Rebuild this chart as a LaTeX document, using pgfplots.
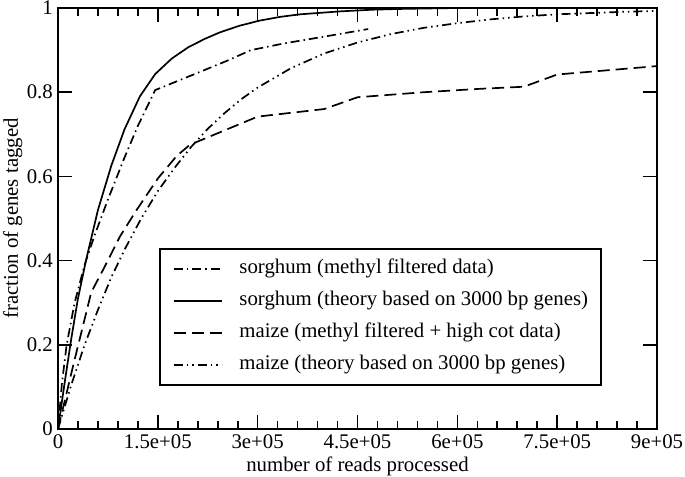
\documentclass[border=0pt]{standalone}
\usepackage{fontspec}
\setmainfont{Liberation Serif}
\usepackage{pgfplots}
\pgfplotsset{compat=1.18}

\newcommand{\lbl}{\fontsize{20.8bp}{24bp}\selectfont}

\begin{document}
\begin{tikzpicture}
\begin{axis}[
    width=599bp, height=421bp, scale only axis,
    xmin=0, xmax=900000, ymin=0, ymax=1,
    xtick={0,150000,300000,450000,600000,750000,900000},
    xticklabels={0,1.5e+05,3e+05,4.5e+05,6e+05,7.5e+05,9e+05},
    scaled x ticks=false,
    minor x tick num=4,
    ytick={0,0.2,0.4,0.6,0.8,1},
    yticklabels={0,0.2,0.4,0.6,0.8,1},
    tick align=inside, tick pos=both,
    major tick length=14bp, minor tick length=8bp,
    every tick/.style={black, line width=1.6bp},
    axis line style={line width=1.6bp},
    /pgf/number format/assume math mode=true,
    tick label style={font=\lbl},
    xticklabel style={inner sep=0pt, anchor=north, yshift=-5bp},
    yticklabel style={inner sep=0pt, anchor=east, xshift=-5bp},
    label style={font=\lbl},
    xlabel={number of reads processed},
    ylabel={fraction of genes tagged},
    xlabel style={at={(axis description cs:0.5,-0.1021)}, anchor=base, inner sep=0pt},
    ylabel style={at={(axis description cs:-0.0668,0.5)}, anchor=base, inner sep=0pt},
    legend style={at={(axis description cs:0.1686,0.430)}, anchor=north west,
        draw=black, line width=1.6bp, font=\lbl,
        inner xsep=13bp, inner ysep=10.5bp,
        nodes={inner sep=0pt, text height=14bp, text depth=5bp},
        row sep=13bp, column sep=17bp},
    legend cell align=left,
    legend image code/.code={\draw[#1, line width=1.7bp] (0bp,0bp) -- (48bp,0bp);},
]

% sorghum, methyl filtered data
\addplot[black, line width=1.7bp, dash pattern=on 9bp off 4bp on 1.5bp off 4bp] coordinates {
(0,0) (6000,0.11) (13000,0.20) (25000,0.30) (40000,0.39) (55000,0.46)
(75000,0.545) (100000,0.645) (120000,0.72) (146000,0.805) (213000,0.848)
(253000,0.874) (290000,0.900) (340000,0.916) (400000,0.932) (466000,0.950)
};
\addlegendentry{sorghum (methyl filtered data)}

% sorghum, theory
\addplot[black, line width=1.7bp] coordinates {
(0,0) (10000,0.11) (20000,0.215) (30000,0.31) (42000,0.40) (60000,0.52)
(80000,0.625) (100000,0.712) (123000,0.79) (146000,0.843)
(171000,0.88) (196000,0.907) (221000,0.927) (243000,0.942) (273000,0.958)
(303000,0.970) (334000,0.979) (364000,0.985) (424000,0.992) (473000,0.996)
(520000,0.998) (600000,1.0) (900000,1.0)
};
\addlegendentry{sorghum (theory based on 3000 bp genes)}

% maize, methyl filtered + high cot data
\addplot[black, line width=1.7bp, dash pattern=on 12bp off 6bp] coordinates {
(0,0) (25000,0.165) (50000,0.325) (70000,0.385) (93000,0.457) (118000,0.52)
(150000,0.595) (178000,0.648) (198000,0.675) (300000,0.742) (400000,0.760)
(450000,0.788) (550000,0.800) (634000,0.808) (700000,0.813) (750000,0.842)
(900000,0.862)
};
\addlegendentry{maize (methyl filtered + high cot data)}

% maize, theory
\addplot[black, line width=1.7bp, dash pattern=on 9bp off 4bp on 1.5bp off 4bp on 1.5bp off 4bp] coordinates {
(0,0) (20000,0.105) (40000,0.20) (60000,0.283) (80000,0.36) (100000,0.426)
(125000,0.50) (150000,0.565) (175000,0.62) (200000,0.67) (225000,0.713)
(250000,0.75) (275000,0.783) (300000,0.811) (350000,0.857) (400000,0.892)
(450000,0.918) (500000,0.938) (550000,0.953) (600000,0.964) (650000,0.973)
(700000,0.980) (750000,0.985) (800000,0.988) (850000,0.991) (900000,0.993)
};
\addlegendentry{maize (theory based on 3000 bp genes)}

\coordinate (sw) at (rel axis cs:0,0);
\coordinate (ne) at (rel axis cs:1,1);
\end{axis}
\pgfresetboundingbox
\path ([shift={(-58bp,-47bp)}]sw) rectangle ([shift={(28bp,8bp)}]ne);
\end{tikzpicture}
\end{document}
